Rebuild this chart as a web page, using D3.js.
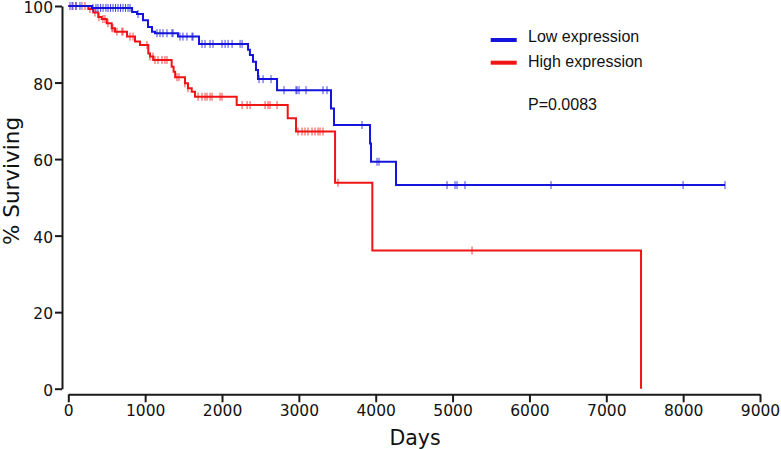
<!DOCTYPE html>
<html>
<head>
<meta charset="utf-8">
<script src="https://cdn.jsdelivr.net/npm/d3@7"></script>
<style>
  html, body { margin: 0; padding: 0; background: #fff; }
  svg { display: block; }
</style>
</head>
<body>
<svg id="chart" width="781" height="449"></svg>
<script>
// ---- Data ----
const xTicks = [0, 1000, 2000, 3000, 4000, 5000, 6000, 7000, 8000, 9000];
const yTicks = [0, 20, 40, 60, 80, 100];

const seriesNames = ["Low expression", "High expression"];
const seriesColors = ["#1414dc", "#f01414"];

// Low expression: step times (days) and survival (%)
const lowDays = [0, 308, 830, 894, 972, 1037, 1089, 1128, 1428, 1701, 2339, 2363, 2403, 2442, 2468, 2716, 3418, 3457, 3926, 3939, 4264];
const lowSurv = [100, 99.5, 98.4, 97.9, 96.3, 94.5, 93.3, 92.9, 92.0, 90.1, 88.6, 87.2, 85.4, 83.3, 80.9, 78.0, 73.2, 68.9, 64.1, 59.3, 53.2];
const lowEnd = 8545;
const lowCensor = [22, 60, 100, 152, 321, 360, 386, 420, 452, 490, 517, 550, 582, 615, 647, 680, 712, 745, 777, 803,
  907, 1154, 1193, 1232, 1284, 1349, 1362, 1453, 1492, 1544, 1610, 1622,
  1740, 1779, 1844, 1883, 2000, 2040, 2079, 2131, 2235, 2261, 2482, 2534, 2638,
  2807, 2963, 2976, 3002, 3093, 3314, 3366, 3822, 4017, 4043,
  4928, 5032, 5058, 5162, 6281, 7999, 8545];

// High expression
const highDays = [0, 260, 325, 390, 435, 500, 565, 608, 764, 868, 933, 1041, 1063, 1105, 1345, 1370, 1390, 1518, 1557, 1606, 1649, 2191, 2855, 2963, 3471, 3956, 7452];
const highSurv = [100, 99.2, 98.3, 97.1, 96.6, 95.5, 94.2, 93.3, 92.0, 90.7, 89.8, 87.6, 86.8, 85.9, 84.1, 82.8, 81.4, 79.8, 78.5, 77.6, 76.3, 74.1, 70.7, 67.2, 53.8, 36.1, 0];
const highEnd = 7452;
const highCensor = [48, 100, 178, 217, 282, 347, 399, 451, 477, 516, 568, 581, 633, 698, 711, 803, 842,
  1024, 1063, 1102, 1128, 1167, 1219, 1258, 1284, 1414, 1440, 1518, 1557,
  1688, 1740, 1779, 1805, 1844, 1870, 1974, 2000,
  2261, 2326, 2365, 2560, 2599, 2625, 2716,
  2989, 3041, 3080, 3119, 3171, 3210, 3249, 3275, 3314, 3509, 5253];

const pValueText = "P=0.0083";

// ---- Chart ----
const svg = d3.select("#chart");
const x = d3.scaleLinear().domain([0, 9000]).range([68.3, 760]);
const y = d3.scaleLinear().domain([0, 100]).range([388.7, 6]);

// Y axis
const yAxis = svg.append("g")
  .attr("transform", "translate(62,0)")
  .call(d3.axisLeft(y).tickValues(yTicks).tickSize(7).tickSizeOuter(0).tickPadding(2));
// X axis
const xAxis = svg.append("g")
  .attr("transform", "translate(0,394.3)")
  .call(d3.axisBottom(x).tickValues(xTicks).tickSize(8).tickSizeOuter(0).tickPadding(3).tickFormat(d3.format("d")));

[yAxis, xAxis].forEach(g => {
  g.select(".domain").attr("stroke", "#1a1a1a").attr("stroke-width", 2);
  g.selectAll(".tick line").attr("stroke", "#1a1a1a").attr("stroke-width", 2);
  g.selectAll(".tick text").attr("fill", "#111")
    .style("font-family", "'DejaVu Sans', sans-serif").style("font-size", "15.5px");
});
yAxis.selectAll(".tick text").attr("dy", "0.42em");

// Axis titles
svg.append("text")
  .attr("x", 415).attr("y", 445)
  .attr("text-anchor", "middle")
  .style("font-family", "'DejaVu Sans', sans-serif").style("font-size", "20.5px").attr("fill", "#111")
  .text("Days");
svg.append("text")
  .attr("transform", "translate(19,181) rotate(-90)")
  .attr("text-anchor", "middle")
  .style("font-family", "'DejaVu Sans', sans-serif").style("font-size", "21.5px").attr("fill", "#111")
  .text("% Surviving");

// Survival curves
function buildPoints(days, surv, end) {
  const pts = days.map((d, i) => [d, surv[i]]);
  const last = pts[pts.length - 1];
  if (end > last[0]) pts.push([end, last[1]]);
  return pts;
}
function survAt(days, surv, t) {
  let v = surv[0];
  for (let i = 0; i < days.length; i++) { if (days[i] <= t) v = surv[i]; }
  return v;
}
const line = d3.line().x(d => x(d[0])).y(d => y(d[1])).curve(d3.curveStepAfter);

const groups = [
  { days: lowDays, surv: lowSurv, end: lowEnd, censor: lowCensor, color: seriesColors[0] },
  { days: highDays, surv: highSurv, end: highEnd, censor: highCensor, color: seriesColors[1] }
];

[groups[1], groups[0]].forEach(g => {
  svg.append("path")
    .datum(buildPoints(g.days, g.surv, g.end))
    .attr("fill", "none")
    .attr("stroke", g.color)
    .attr("stroke-width", 2)
    .attr("d", line);
  svg.append("g").selectAll("line")
    .data(g.censor)
    .join("line")
    .attr("x1", d => x(d)).attr("x2", d => x(d))
    .attr("y1", d => y(survAt(g.days, g.surv, d)) - 4)
    .attr("y2", d => y(survAt(g.days, g.surv, d)) + 4)
    .attr("stroke", g.color)
    .attr("stroke-opacity", 0.8)
    .attr("stroke-width", 1);
});

// Legend
const legendY = [40, 62.7];
seriesNames.forEach((name, i) => {
  svg.append("line")
    .attr("x1", 490.7).attr("x2", 516.7)
    .attr("y1", legendY[i]).attr("y2", legendY[i])
    .attr("stroke", seriesColors[i]).attr("stroke-width", 4);
  svg.append("text")
    .attr("x", 528).attr("y", legendY[i] + 1.7 + (i === 1 ? 2.3 : 0))
    .style("font-family", "'Liberation Sans', Arial, sans-serif").style("font-size", "16px").attr("fill", "#111")
    .text(name);
});
svg.append("text")
  .attr("x", 528).attr("y", 110)
  .style("font-family", "'Liberation Sans', Arial, sans-serif").style("font-size", "16px").attr("fill", "#111")
  .text(pValueText);
</script>
</body>
</html>
